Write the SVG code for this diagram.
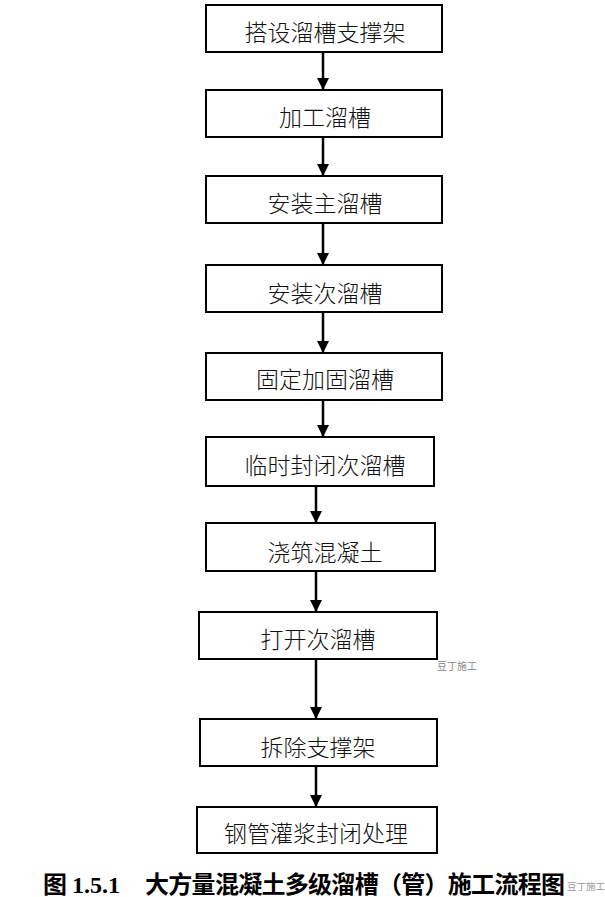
<svg xmlns="http://www.w3.org/2000/svg" width="605" height="897" viewBox="0 0 605 897">
<style>
.box{fill:#fff;stroke:#000;stroke-width:2}
.lbl{font-family:"Noto Sans CJK SC","Noto Sans CJK JP",sans-serif;font-size:23px;font-weight:300;fill:#111;text-anchor:middle}
.con{stroke:#000;stroke-width:2.5;fill:none;marker-end:url(#ah)}
.cap{font-family:"Liberation Serif","Noto Sans CJK SC",serif;font-size:24px;font-weight:bold;fill:#000}
.wm{font-family:"Noto Sans CJK SC",sans-serif;font-size:10px;fill:#888}
</style>
<defs>
<marker id="ah" markerUnits="userSpaceOnUse" markerWidth="14" markerHeight="12" refX="12" refY="6" orient="auto">
<path d="M0,0 L12,6 L0,12 Z" fill="#000"/>
</marker>
</defs>
<rect width="605" height="897" fill="#fff"/>
<g id="connectors">
<line class="con" x1="323" y1="52" x2="323" y2="90"/>
<line class="con" x1="323" y1="137" x2="323" y2="176"/>
<line class="con" x1="323" y1="223" x2="323" y2="265"/>
<line class="con" x1="323" y1="312" x2="323" y2="353"/>
<line class="con" x1="323" y1="400" x2="323" y2="437"/>
<line class="con" x1="316" y1="486" x2="316" y2="523"/>
<line class="con" x1="316" y1="571" x2="316" y2="612"/>
<line class="con" x1="316" y1="659" x2="316" y2="719"/>
<line class="con" x1="316" y1="766" x2="316" y2="807"/>
</g>
<g id="n1"><rect class="box" x="206" y="5" width="236" height="47"/><text class="lbl" x="325" y="41">搭设溜槽支撑架</text></g>
<g id="n2"><rect class="box" x="206" y="90" width="236" height="47"/><text class="lbl" x="325" y="126">加工溜槽</text></g>
<g id="n3"><rect class="box" x="206" y="176" width="236" height="47"/><text class="lbl" x="325" y="212">安装主溜槽</text></g>
<g id="n4"><rect class="box" x="206" y="265" width="236" height="47"/><text class="lbl" x="325" y="302">安装次溜槽</text></g>
<g id="n5"><rect class="box" x="206" y="353" width="236" height="47"/><text class="lbl" x="325" y="388">固定加固溜槽</text></g>
<g id="n6"><rect class="box" x="206" y="437" width="228" height="49"/><text class="lbl" x="325" y="474">临时封闭次溜槽</text></g>
<g id="n7"><rect class="box" x="206" y="523" width="229" height="48"/><text class="lbl" x="325" y="561">浇筑混凝土</text></g>
<g id="n8"><rect class="box" x="199" y="612" width="238" height="47"/><text class="lbl" x="318" y="648">打开次溜槽</text></g>
<g id="n9"><rect class="box" x="200" y="719" width="237" height="47"/><text class="lbl" x="318" y="756">拆除支撑架</text></g>
<g id="n10"><rect class="box" x="197" y="807" width="240" height="46"/><text class="lbl" x="316" y="842">钢管灌浆封闭处理</text></g>
<text class="wm" x="437" y="670">豆丁施工</text>
<text class="cap" y="893"><tspan x="43">图</tspan><tspan x="72">1.5.1</tspan><tspan x="145" textLength="420" lengthAdjust="spacing">大方量混凝土多级溜槽（管）施工流程图</tspan></text>
<text class="wm" x="567" y="890" style="font-size:9.5px;fill:#999">豆丁施工</text>
</svg>
